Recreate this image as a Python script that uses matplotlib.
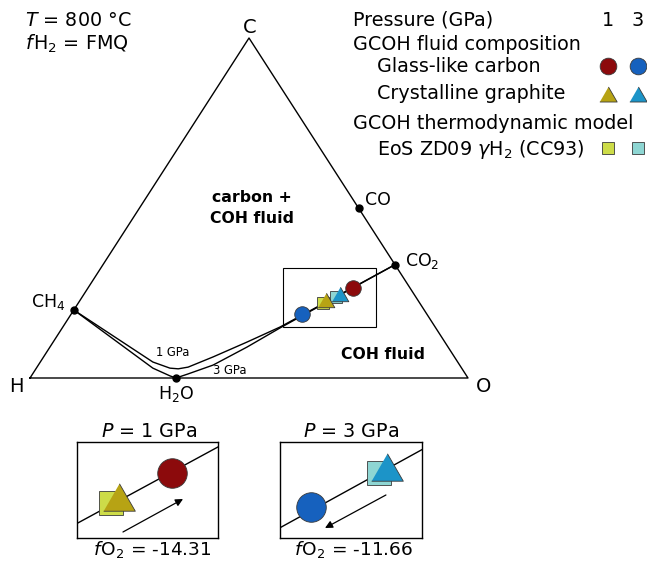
import numpy as np
import matplotlib
matplotlib.use("Agg")
import matplotlib.pyplot as plt
from matplotlib.patches import Rectangle

plt.rcParams['font.family'] = ['DejaVu Sans']
plt.rcParams['mathtext.fontset'] = 'dejavusans'

# ---------------------------------------------------------------------------
# Data (atomic fractions of O and C; H = 1 - O - C)
# ---------------------------------------------------------------------------
species = ['CH$_4$', 'H$_2$O', 'CO', 'CO$_2$']
species_O = [0.0, 1 / 3, 1 / 2, 2 / 3]
species_C = [1 / 5, 0.0, 1 / 2, 1 / 3]

# graphite-saturated COH fluid curves at FMQ
curve_1gpa_O = [0.0, 0.257, 0.305, 0.325, 0.345, 0.387, 0.443, 0.496, 2 / 3]
curve_1gpa_C = [0.2, 0.047, 0.029, 0.027, 0.032, 0.062, 0.106, 0.150, 1 / 3]
curve_3gpa_O = [0.0, 0.266, 0.317, 1 / 3, 0.355, 0.399, 0.450, 0.497, 2 / 3]
curve_3gpa_C = [0.2, 0.029, 0.006, 0.0, 0.012, 0.038, 0.091, 0.147, 1 / 3]

pressures = [1, 3]                      # GPa
glass_O = [0.605, 0.527]                # glass-like carbon
glass_C = [0.265, 0.188]
graphite_O = [0.562, 0.584]             # crystalline graphite
graphite_C = [0.229, 0.247]
model_O = [0.558, 0.580]                # EoS ZD09 gammaH2 (CC93)
model_C = [0.220, 0.238]
fO2 = [-14.31, -11.66]

glass_colors = ['#8C0A0C', '#1661BE']
graphite_colors = ['#B7A314', '#1C94C8']
model_colors = ['#CDDC48', '#8ED6D3']

# ---------------------------------------------------------------------------
# Ternary projection onto the page
# ---------------------------------------------------------------------------
H_XY = (30.0, 378.0)
O_XY = (468.0, 378.0)
C_XY = (249.0, 38.0)


def tern(xO, xC):
    xO = np.asarray(xO, float)
    xC = np.asarray(xC, float)
    x = H_XY[0] + (O_XY[0] - H_XY[0]) * xO + (C_XY[0] - H_XY[0]) * xC
    y = H_XY[1] + (C_XY[1] - H_XY[1]) * xC
    return x, y


TRI = [(-1.0, -0.866), (1.0, -0.866), (0.0, 0.866)]   # equilateral triangle marker
EDGE = '#3A3A3A'

W, Hh = 647, 568
fig = plt.figure(figsize=(W / 100, Hh / 100), dpi=100)
ax = fig.add_axes([0, 0, 1, 1])
ax.set_xlim(0, W)
ax.set_ylim(Hh, 0)
ax.axis('off')

# triangle frame
tx, ty = tern([0, 1, 0, 0], [0, 0, 1, 0])
ax.plot(tx, ty, color='black', lw=1.0, zorder=2)

# fluid curves
for cO, cC in [(curve_1gpa_O, curve_1gpa_C), (curve_3gpa_O, curve_3gpa_C)]:
    x, y = tern(cO, cC)
    ax.plot(x, y, color='black', lw=1.0, solid_joinstyle='round', zorder=3)

# species points and labels
sx, sy = tern(species_O, species_C)
ax.plot(sx, sy, 'o', color='black', ms=5, zorder=6)
lab_off = [(-8, -3, 'right'), (0, 21, 'center'), (6, -3, 'left'), (10, 1, 'left')]
for name, x, y, (dx, dy, ha) in zip(species, sx, sy, lab_off):
    ax.text(x + dx, y + dy, name, ha=ha, va='baseline', fontsize=12.5)

# vertex labels
ax.text(C_XY[0] + 1, 33, 'C', ha='center', va='baseline', fontsize=14)
ax.text(H_XY[0] - 14, 392, 'H', ha='center', va='baseline', fontsize=14)
ax.text(O_XY[0] + 16, 392, 'O', ha='center', va='baseline', fontsize=14)

# field labels
ax.text(252, 202, 'carbon +', ha='center', va='baseline', fontsize=11.3, fontweight='bold')
ax.text(252, 223, 'COH fluid', ha='center', va='baseline', fontsize=11.3, fontweight='bold')
ax.text(383, 359, 'COH fluid', ha='center', va='baseline', fontsize=11.3, fontweight='bold')
ax.text(156, 356, '1 GPa', ha='left', va='baseline', fontsize=8.3)
ax.text(213, 374, '3 GPa', ha='left', va='baseline', fontsize=8.3)

# conditions
ax.text(25, 26, r'$\it{T}$ = 800 °C', ha='left', va='baseline', fontsize=13.8)
ax.text(25, 50, r'$\it{f}\hspace{0.08}$H$_2$ = FMQ', ha='left', va='baseline', fontsize=13.8)

# zoom frame
ax.add_patch(Rectangle((283, 268), 93, 59, fill=False, ec='black', lw=0.8, zorder=4))


def draw_square(a, idx, scale):
    mx, my = tern(model_O[idx], model_C[idx])
    a.plot(mx, my, 's', ms=9.0 * scale, mfc=model_colors[idx], mec=EDGE, mew=0.6, zorder=7)


def draw_tri(a, idx, scale):
    gx, gy = tern(graphite_O[idx], graphite_C[idx])
    a.plot(gx, gy, marker=TRI, ms=12.0 * scale, mfc=graphite_colors[idx], mec=EDGE,
           mew=0.6, ls='none', zorder=8)


def draw_circle(a, idx, scale):
    cx, cy = tern(glass_O[idx], glass_C[idx])
    a.plot(cx, cy, 'o', ms=11.2 * scale, mfc=glass_colors[idx], mec=EDGE, mew=0.6, zorder=9)


for i in (1, 0):
    draw_square(ax, i, 1)
for i in (1, 0):
    draw_tri(ax, i, 1)
for i in (0, 1):
    draw_circle(ax, i, 1)

# legend
ax.text(353, 26, 'Pressure (GPa)', ha='left', va='baseline', fontsize=13.8)
for p, lx in zip(pressures, [608, 638]):
    ax.text(lx, 26, str(p), ha='center', va='baseline', fontsize=13.8)
ax.text(353, 50, 'GCOH fluid composition', ha='left', va='baseline', fontsize=13.8)
ax.text(377, 72, 'Glass-like carbon', ha='left', va='baseline', fontsize=13.8)
ax.text(377, 99, 'Crystalline graphite', ha='left', va='baseline', fontsize=13.8)
ax.text(353, 129, 'GCOH thermodynamic model', ha='left', va='baseline', fontsize=13.8)
ax.text(377, 155, r'EoS ZD09 $\it{γ}$H$_2$ (CC93)', ha='left', va='baseline', fontsize=13.8)
for i, lx in enumerate([608, 638]):
    ax.plot(lx, 66, 'o', ms=12, mfc=glass_colors[i], mec=EDGE, mew=0.6)
    ax.plot(lx, 94, marker=TRI, ms=12.5, mfc=graphite_colors[i], mec=EDGE, mew=0.6, ls='none')
    ax.plot(lx, 148, 's', ms=8.4, mfc=model_colors[i], mec=EDGE, mew=0.6)

# enlarged views of the zoom frame, one per pressure
panels = [
    dict(idx=0, box=(77, 442, 141, 96), win=(305.5, 272.5), cO=curve_1gpa_O, cC=curve_1gpa_C,
         arrow=((0.326, 0.0625), (0.752, 0.406)), cx=149),
    dict(idx=1, box=(280, 442, 142, 96), win=(286.5, 281.5), cO=curve_3gpa_O, cC=curve_3gpa_C,
         arrow=((0.746, 0.448), (0.317, 0.104)), cx=351),
]
for pnl in panels:
    bx, by, bw, bh = pnl['box']
    ia = fig.add_axes([bx / W, 1 - (by + bh) / Hh, bw / W, bh / Hh])
    x0, y0 = pnl['win']
    ia.set_xlim(x0, x0 + bw / 2)
    ia.set_ylim(y0 + bh / 2, y0)
    ia.set_xticks([])
    ia.set_yticks([])
    for s in ia.spines.values():
        s.set_linewidth(1.0)
    x, y = tern(pnl['cO'], pnl['cC'])
    ia.plot(x, y, color='black', lw=1.0, zorder=3)
    i = pnl['idx']
    draw_square(ia, i, 1.9)
    draw_tri(ia, i, 1.9)
    draw_circle(ia, i, 1.9)
    (sx0, sy0), (sx1, sy1) = pnl['arrow']
    ia.annotate('', xy=(sx1, sy1), xytext=(sx0, sy0), xycoords='axes fraction',
                textcoords='axes fraction',
                arrowprops=dict(arrowstyle='-|>', color='black', lw=0.9,
                                mutation_scale=11, shrinkA=0, shrinkB=0))
    ax.text(pnl['cx'], 437, r'$\it{P}$ = %d GPa' % pressures[i], ha='center',
            va='baseline', fontsize=13.8)
    ax.text(pnl['cx'] + 3, 555, r'$\it{f}\hspace{0.08}$O$_2$ = %.2f' % fO2[i], ha='center',
            va='baseline', fontsize=13.3)

fig.savefig('out.png', dpi=100)
